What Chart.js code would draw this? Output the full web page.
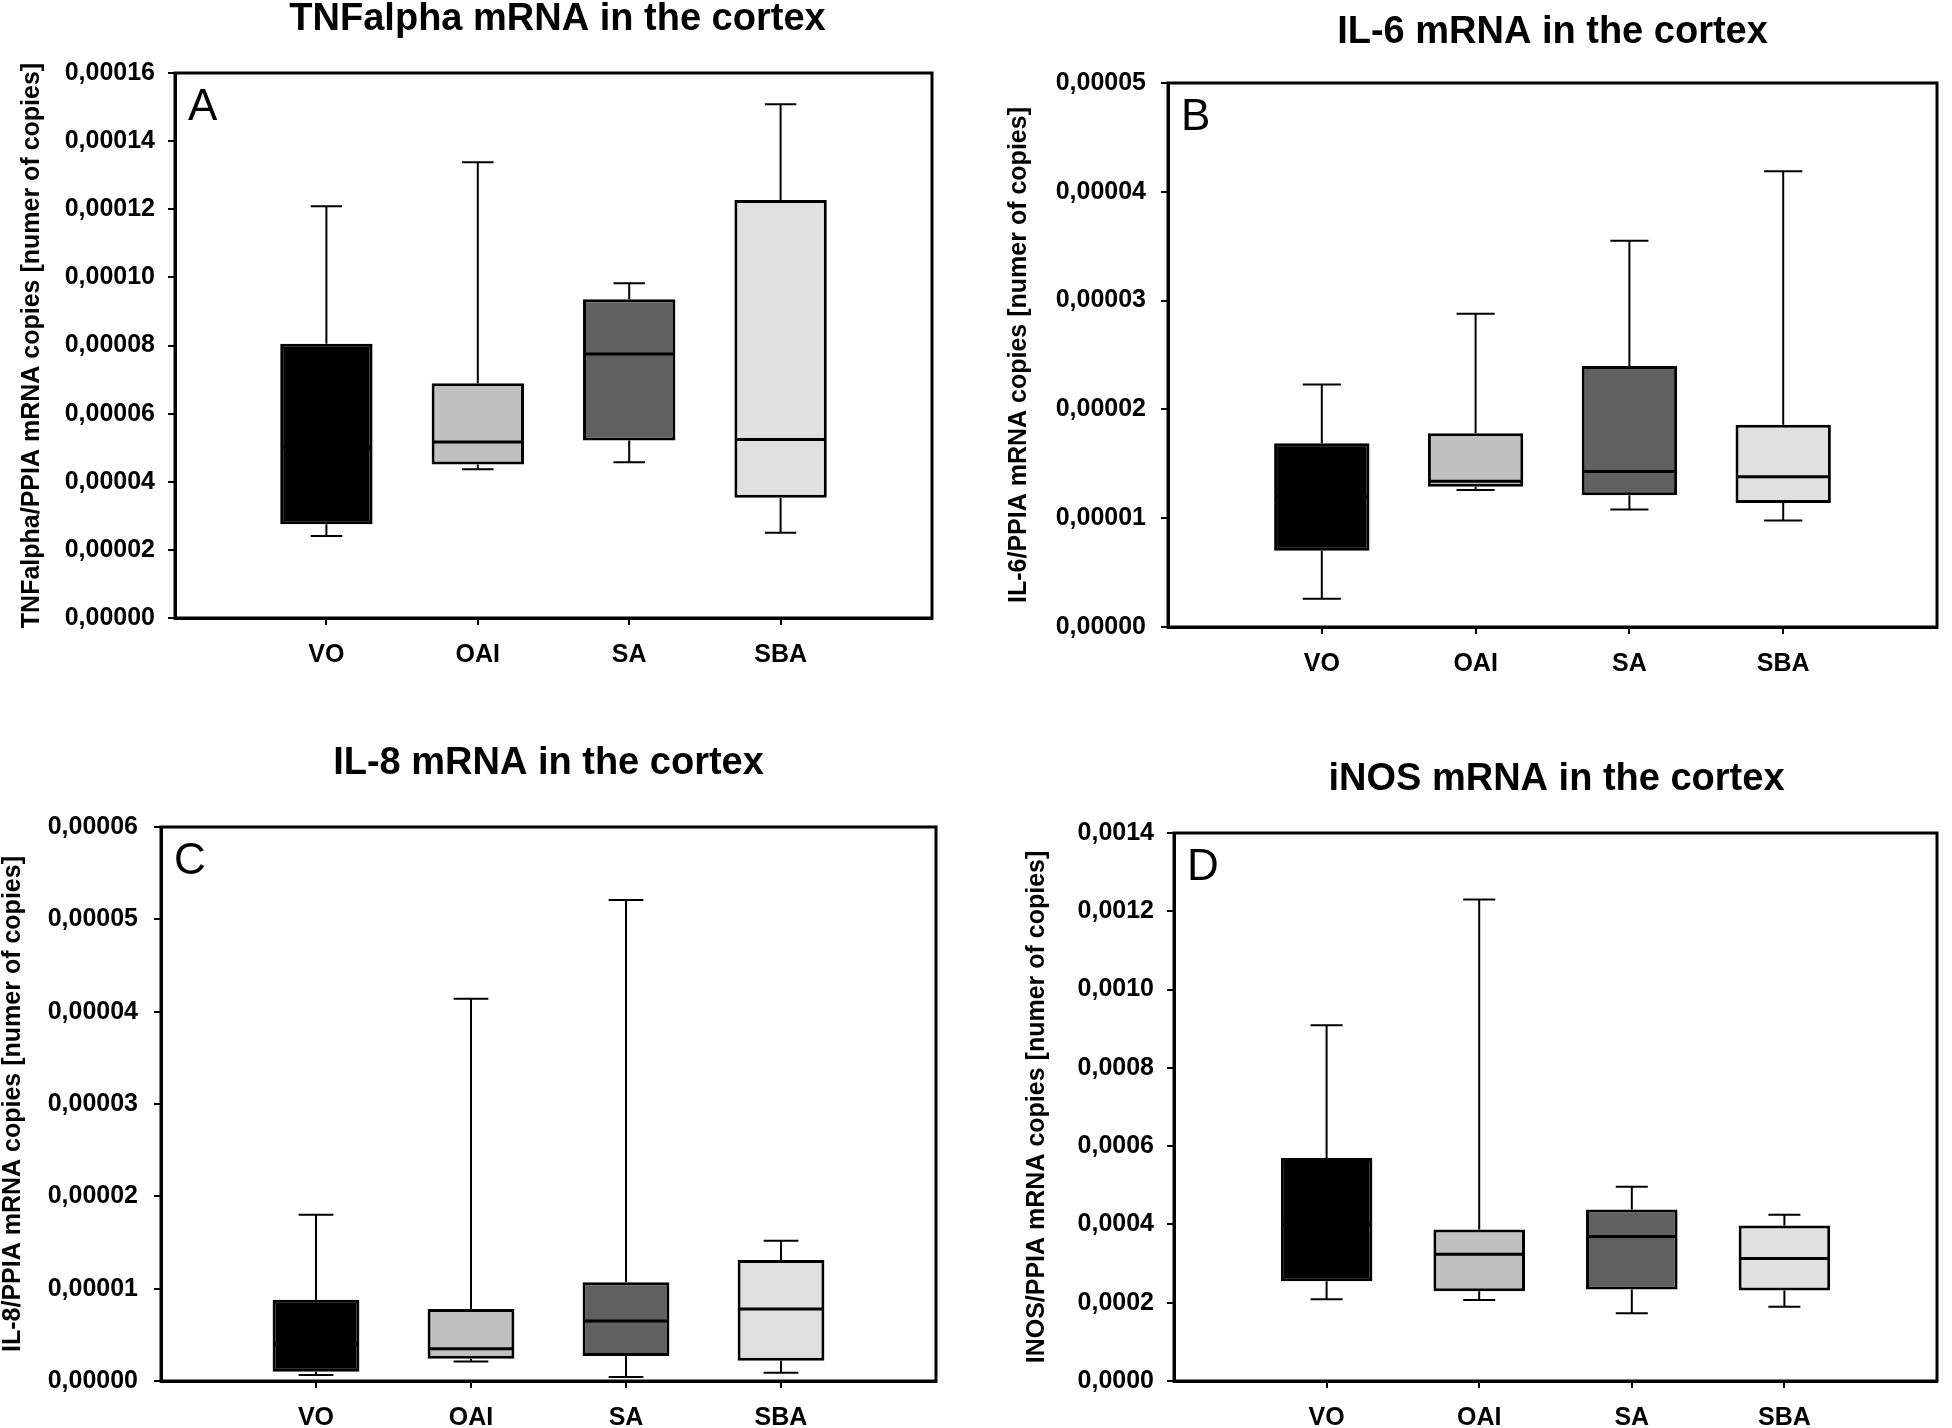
<!DOCTYPE html>
<html><head><meta charset="utf-8">
<script src="https://cdn.jsdelivr.net/npm/chart.js@4.4.1/dist/chart.umd.min.js"></script>
<style>
html,body{margin:0;padding:0;background:#fff;}
#wrap{position:relative;width:1952px;height:1428px;overflow:hidden;background:#fff;}
canvas{position:absolute;}
</style></head><body>
<div id="wrap">
<canvas id="cA" width="976" height="714" style="left:0px;top:0px"></canvas>
<canvas id="cB" width="976" height="714" style="left:976px;top:0px"></canvas>
<canvas id="cC" width="976" height="714" style="left:0px;top:714px"></canvas>
<canvas id="cD" width="976" height="714" style="left:976px;top:714px"></canvas>
</div>
<script>
// ---------- DATA ----------
const groups = ['VO', 'OAI', 'SA', 'SBA'];

// A: TNFalpha
const tnfTicks = ['0,00000','0,00002','0,00004','0,00006','0,00008','0,00010','0,00012','0,00014','0,00016'];
const tnfMin = [0.0000241, 0.0000437, 0.0000457, 0.0000250];
const tnfQ1  = [0.0000275, 0.0000451, 0.0000521, 0.0000353];
const tnfMed = [0.0000500, 0.0000517, 0.0000775, 0.0000524];
const tnfQ3  = [0.0000805, 0.0000689, 0.0000936, 0.0001227];
const tnfMax = [0.0001209, 0.0001338, 0.0000983, 0.0001508];

// B: IL-6
const il6Ticks = ['0,00000','0,00001','0,00002','0,00003','0,00004','0,00005'];
const il6Min = [0.0000026, 0.0000126, 0.0000108, 0.0000098];
const il6Q1  = [0.0000070, 0.0000129, 0.0000121, 0.0000114];
const il6Med = [0.0000120, 0.0000134, 0.0000143, 0.0000138];
const il6Q3  = [0.0000169, 0.0000178, 0.0000240, 0.0000186];
const il6Max = [0.0000223, 0.0000288, 0.0000355, 0.0000419];

// C: IL-8
const il8Ticks = ['0,00000','0,00001','0,00002','0,00003','0,00004','0,00005','0,00006'];
const il8Min = [0.00000064, 0.0000021, 0.00000044, 0.00000089];
const il8Q1  = [0.00000099, 0.0000024, 0.0000027, 0.0000022];
const il8Med = [0.0000040, 0.0000035, 0.0000065, 0.0000078];
const il8Q3  = [0.0000088, 0.0000078, 0.0000107, 0.0000131];
const il8Max = [0.0000180, 0.0000414, 0.0000521, 0.0000152];

// D: iNOS
const inosTicks = ['0,0000','0,0002','0,0004','0,0006','0,0008','0,0010','0,0012','0,0014'];
const inosMin = [0.000209, 0.000207, 0.000173, 0.000190];
const inosQ1  = [0.000255, 0.000229, 0.000234, 0.000231];
const inosMed = [0.000400, 0.000324, 0.000369, 0.000313];
const inosQ3  = [0.000570, 0.000387, 0.000438, 0.000397];
const inosMax = [0.000909, 0.001230, 0.000496, 0.000425];

// ---------- STYLE ----------
const fontFam = "'Liberation Sans', Arial, Helvetica, sans-serif";
const boxFills = ['#000000', '#c0c0c0', '#606060', '#e0e0e0'];
Chart.defaults.font.family = fontFam;
Chart.defaults.color = '#000';

const panels = [
  {id:'cA', title:'TNFalpha mRNA in the cortex', yTitle:'TNFalpha/PPIA mRNA copies [numer of copies]', letter:'A',
   ticks:tnfTicks, min:tnfMin, q1:tnfQ1, med:tnfMed, q3:tnfQ3, max:tnfMax,
   g:{L:175, T:73, R:932, B:618, titleY:20, titleDx:4, yTitleX:32, tickPad:13, boxPct:0.61, capFrac:0.34}},
  {id:'cB', title:'IL-6 mRNA in the cortex', yTitle:'IL-6/PPIA mRNA copies [numer of copies]', letter:'B',
   ticks:il6Ticks, min:il6Min, q1:il6Q1, med:il6Med, q3:il6Q3, max:il6Max,
   g:{L:192, T:83, R:969, B:627, titleY:33, titleDx:0, yTitleX:43, tickPad:15, boxPct:0.62, capFrac:0.40}},
  {id:'cC', title:'IL-8 mRNA in the cortex', yTitle:'IL-8/PPIA mRNA copies [numer of copies]', letter:'C',
   ticks:il8Ticks, min:il8Min, q1:il8Q1, med:il8Med, q3:il8Q3, max:il8Max,
   g:{L:161, T:113, R:936, B:667, titleY:50, titleDx:0, yTitleX:13, tickPad:16, boxPct:0.56, capFrac:0.40}},
  {id:'cD', title:'iNOS mRNA in the cortex', yTitle:'INOS/PPIA mRNA copies [numer of copies]', letter:'D',
   ticks:inosTicks, min:inosMin, q1:inosQ1, med:inosMed, q3:inosQ3, max:inosMax,
   g:{L:198, T:119, R:963, B:667, titleY:66, titleDx:1, yTitleX:61, tickPad:13, boxPct:0.60, capFrac:0.35}}
];

function makeChart(p) {
  const canvas = document.getElementById(p.id);
  const W = canvas.width, H = canvas.height;
  const g = p.g;
  const xLabels = [''].concat(groups, ['']);
  const last = xLabels.length - 1;
  const padL = Math.max(0, g.yTitleX - 12.5);
  const tickVals = p.ticks.map(s => parseFloat(s.replace(',', '.')));
  const boxes = xLabels.map((_, i) => (i === 0 || i === last) ? null : [p.q1[i-1], p.q3[i-1]]);
  const fills = xLabels.map((_, i) => (i === 0 || i === last) ? '#fff' : boxFills[i-1]);

  const boxPlugin = {
    id: 'boxparts',
    beforeDatasetsDraw(chart) {
      const {ctx, scales:{x, y}} = chart;
      const meta = chart.getDatasetMeta(0);
      ctx.save();
      ctx.strokeStyle = '#000'; ctx.lineWidth = 2;
      groups.forEach((name, k) => {
        const bar = meta.data[k+1];
        const cx = x.getPixelForValue(k+1);
        const half = bar.width * g.capFrac / 2;
        const yMax = y.getPixelForValue(p.max[k]);
        const yQ3 = y.getPixelForValue(p.q3[k]);
        const yQ1 = y.getPixelForValue(p.q1[k]);
        const yMin = y.getPixelForValue(p.min[k]);
        ctx.beginPath();
        ctx.moveTo(cx, yQ3); ctx.lineTo(cx, yMax);
        ctx.moveTo(cx - half, yMax); ctx.lineTo(cx + half, yMax);
        ctx.moveTo(cx, yQ1); ctx.lineTo(cx, yMin);
        ctx.moveTo(cx - half, yMin); ctx.lineTo(cx + half, yMin);
        ctx.stroke();
      });
      ctx.restore();
    },
    afterDatasetsDraw(chart) {
      const {ctx, scales:{y}} = chart;
      const meta = chart.getDatasetMeta(0);
      const a = chart.chartArea;
      ctx.save();
      ctx.strokeStyle = '#000';
      ctx.lineWidth = 3;
      ctx.beginPath();
      groups.forEach((name, k) => {
        const bar = meta.data[k+1];
        const ym = y.getPixelForValue(p.med[k]);
        ctx.moveTo(bar.x - bar.width/2 + 1, ym);
        ctx.lineTo(bar.x + bar.width/2 - 1, ym);
      });
      ctx.stroke();
      ctx.lineWidth = 3;
      ctx.strokeRect(a.left, a.top, a.right - a.left, a.bottom - a.top);
      ctx.fillStyle = '#000';
      ctx.font = 'bold 38px ' + fontFam;
      ctx.textAlign = 'center'; ctx.textBaseline = 'middle';
      ctx.fillText(p.title, (a.left + a.right)/2 + g.titleDx, g.titleY);
      ctx.font = '44px ' + fontFam;
      ctx.textAlign = 'left'; ctx.textBaseline = 'alphabetic';
      ctx.fillText(p.letter, a.left + 13, a.top + 47);
      ctx.restore();
    }
  };

  return new Chart(canvas, {
    type: 'bar',
    data: {
      labels: xLabels,
      datasets: [{
        data: boxes,
        backgroundColor: fills,
        borderColor: '#000',
        borderWidth: 3,
        borderSkipped: false,
        categoryPercentage: 1,
        barPercentage: g.boxPct
      }]
    },
    options: {
      responsive: false,
      animation: false,
      devicePixelRatio: 1,
      layout: { padding: { left: padL, right: W - g.R, top: g.T, bottom: 0 } },
      plugins: { legend: { display: false }, tooltip: { enabled: false }, title: { display: false } },
      scales: {
        x: {
          type: 'category',
          offset: false,
          afterFit: s => { s.height = H - g.B; },
          grid: {
            offset: false, drawOnChartArea: false, tickLength: 7, lineWidth: 2,
            color: ctx => (ctx.index === 0 || ctx.index === last) ? 'rgba(0,0,0,0)' : '#000',
            tickColor: ctx => (ctx.index === 0 || ctx.index === last) ? 'rgba(0,0,0,0)' : '#000'
          },
          border: { display: true, color: '#000', width: 3 },
          ticks: { font: { size: 25, weight: 'bold' }, color: '#000', padding: 15, maxRotation: 0, autoSkip: false }
        },
        y: {
          min: tickVals[0],
          max: tickVals[tickVals.length - 1],
          afterBuildTicks: s => { s.ticks = tickVals.map(v => ({ value: v })); },
          afterFit: s => { s.width = g.L - padL; },
          grid: { drawOnChartArea: false, tickLength: 7, lineWidth: 2, color: '#000', tickColor: '#000' },
          border: { display: true, color: '#000', width: 3 },
          ticks: {
            font: { size: 25, weight: 'bold' }, color: '#000', padding: g.tickPad, autoSkip: false,
            callback: (v, i) => p.ticks[i]
          },
          title: {
            display: true, text: p.yTitle, color: '#000', padding: 0,
            font: { size: 25, weight: 'bold', lineHeight: 1 }
          }
        }
      }
    },
    plugins: [boxPlugin]
  });
}

panels.forEach(makeChart);
</script>
</body></html>
